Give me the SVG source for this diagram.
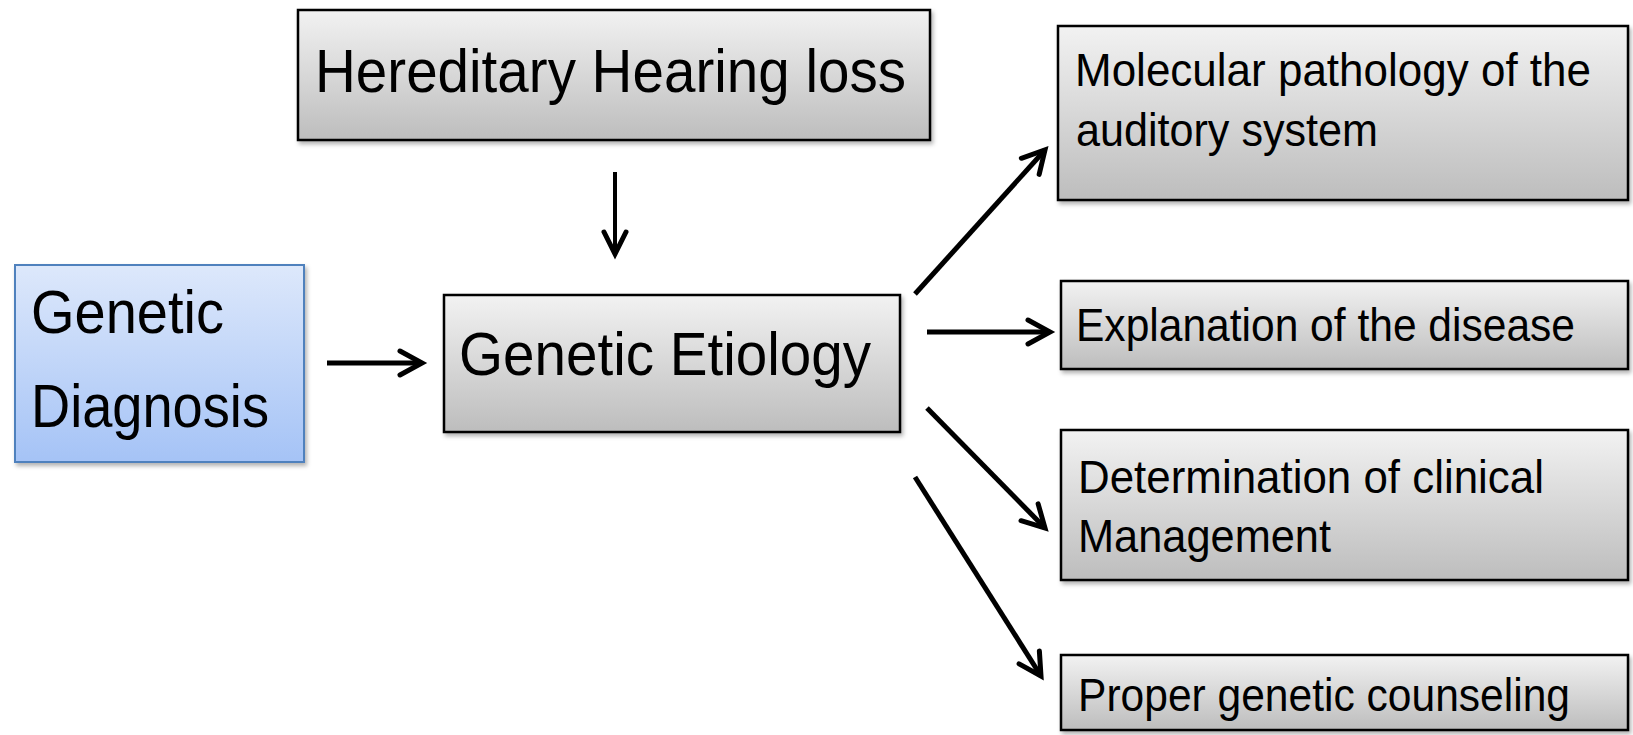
<svg xmlns="http://www.w3.org/2000/svg" width="1633" height="735" viewBox="0 0 1633 735">
<style>
.box{fill:url(#gray);stroke:#000;stroke-width:2.5;filter:url(#sh)}
.bbox{fill:url(#blue);stroke:#4f81bd;stroke-width:2;filter:url(#sh)}
text{font-family:"Liberation Sans",Arial,sans-serif;fill:#000}
.big{font-size:61px}
.sm{font-size:47px}
.con{stroke:#000;stroke-width:5;fill:none;marker-end:url(#ah)}
.thin{stroke:#000;stroke-width:4;fill:none;marker-end:url(#ah2)}
</style>
<defs>
<linearGradient id="gray" x1="0" y1="0" x2="0" y2="1">
<stop offset="0" stop-color="#f2f2f2"/>
<stop offset="1" stop-color="#bdbdbd"/>
</linearGradient>
<linearGradient id="blue" x1="0" y1="0" x2="0" y2="1">
<stop offset="0" stop-color="#dde8fb"/>
<stop offset="1" stop-color="#a5c3f6"/>
</linearGradient>
<filter id="sh" x="-5%" y="-5%" width="115%" height="120%">
<feDropShadow dx="2" dy="3" stdDeviation="2" flood-color="#000" flood-opacity="0.3"/>
</filter>
<marker id="ah" markerUnits="userSpaceOnUse" viewBox="-30 -20 40 40" markerWidth="40" markerHeight="40" refX="0" refY="0" orient="auto">
<path d="M-22,-12 L0,0 L-22,12" stroke="#000" stroke-width="5" fill="none" stroke-linecap="round" stroke-linejoin="miter"/>
</marker>
<marker id="ah2" markerUnits="userSpaceOnUse" viewBox="-30 -20 40 40" markerWidth="40" markerHeight="40" refX="0" refY="0" orient="auto">
<path d="M-22,-11 L0,0 L-22,11" stroke="#000" stroke-width="5" fill="none" stroke-linecap="round" stroke-linejoin="miter"/>
</marker>
</defs>

<g id="node-hereditary">
<rect class="box" x="298" y="10" width="632" height="130"/>
<text class="big" x="315" y="92" font-size="63" textLength="591" lengthAdjust="spacingAndGlyphs">Hereditary Hearing loss</text>
</g>

<g id="node-diagnosis">
<rect class="bbox" x="15" y="265" width="289" height="197"/>
<text class="big" x="31" y="333" textLength="193" lengthAdjust="spacingAndGlyphs">Genetic</text>
<text class="big" x="31" y="427" textLength="238" lengthAdjust="spacingAndGlyphs">Diagnosis</text>
</g>

<g id="node-etiology">
<rect class="box" x="444" y="295" width="456" height="137"/>
<text class="big" x="459" y="375" textLength="412" lengthAdjust="spacingAndGlyphs">Genetic Etiology</text>
</g>

<g id="node-molecular">
<rect class="box" x="1058" y="26" width="570" height="174"/>
<text class="sm" x="1075" y="86" textLength="516" lengthAdjust="spacingAndGlyphs">Molecular pathology of the</text>
<text class="sm" x="1076" y="146" textLength="302" lengthAdjust="spacingAndGlyphs">auditory system</text>
</g>

<g id="node-explanation">
<rect class="box" x="1061" y="281" width="567" height="88"/>
<text class="sm" x="1076" y="341" textLength="499" lengthAdjust="spacingAndGlyphs">Explanation of the disease</text>
</g>

<g id="node-determination">
<rect class="box" x="1061" y="430" width="567" height="150"/>
<text class="sm" x="1078" y="493" textLength="466" lengthAdjust="spacingAndGlyphs">Determination of clinical</text>
<text class="sm" x="1078" y="552" textLength="253" lengthAdjust="spacingAndGlyphs">Management</text>
</g>

<g id="node-proper">
<rect class="box" x="1061" y="655" width="567" height="75"/>
<text class="sm" x="1078" y="711" textLength="492" lengthAdjust="spacingAndGlyphs">Proper genetic counseling</text>
</g>

<g id="connectors">
<line class="thin" x1="615" y1="172" x2="615" y2="254"/>
<line class="con" x1="327" y1="363" x2="422" y2="363"/>
<line class="con" x1="915" y1="294" x2="1045" y2="150"/>
<line class="con" x1="927" y1="332" x2="1050" y2="332"/>
<line class="con" x1="927" y1="408" x2="1045" y2="528"/>
<line class="con" x1="915" y1="477" x2="1041" y2="676"/>
</g>
</svg>
